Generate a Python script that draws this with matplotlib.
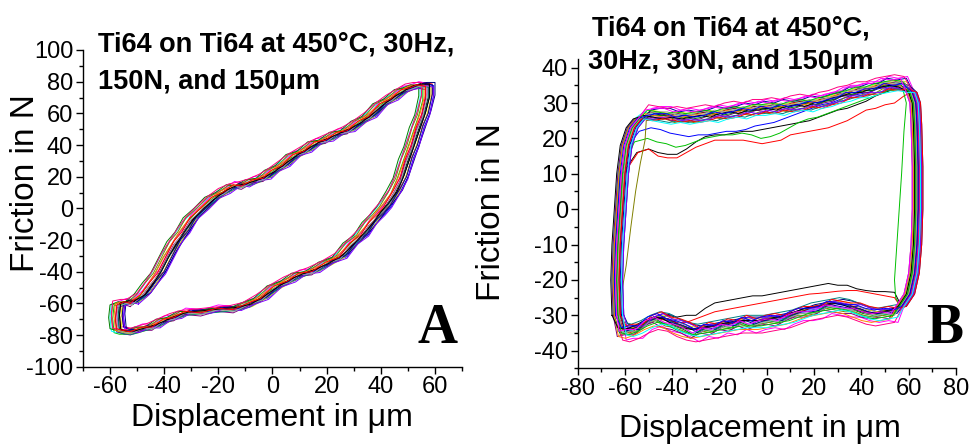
import numpy as np
import matplotlib
matplotlib.use("Agg")
import matplotlib.pyplot as plt
from matplotlib.ticker import MultipleLocator

plt.rcParams['font.family'] = ['Liberation Sans', 'DejaVu Sans']
plt.rcParams['axes.unicode_minus'] = False

# Origin default line colours, cycle order
origin_colors = ['#000000', '#FF0000', '#00C000', '#0000FF', '#00FFFF', '#FF00FF',
                 '#E0E000', '#808000', '#000080', '#800080', '#800000', '#008000',
                 '#008080', '#0000A0', '#FF8000', '#8000FF', '#FF0080', '#A0A0A0']

# ---- panel A : 150 N, traced loop (upper branch then lower branch), two variants
a_up_x = [-52, -48, -45, -42, -39, -36, -33, -30, -26, -22, -18, -14, -11, -7, -3,
          0, 4, 8, 12, 16, 20, 24, 28, 32, 36, 40, 44, 48, 51, 54, 57]
a_up_y = [-59, -55, -48, -40, -30, -22, -14, -7, 0, 6, 11, 14, 15, 17, 20,
          23, 28, 33, 37, 41, 44, 47, 50, 54, 59, 65, 70, 74, 77, 78, 78]
a_up_y2 = [-60, -54, -47, -41, -31, -21, -15, -6, 0, 7, 10, 15, 14, 18, 19,
           24, 27, 34, 36, 42, 43, 48, 49, 55, 58, 66, 69, 75, 76, 78, 77]
a_down_x = [57, 55.5, 53.5, 51.5, 49.5, 47.5, 45, 41.5, 39, 36, 33, 29, 25, 20, 15, 10,
            6, 1, -4, -9, -14, -20, -26, -32, -36, -40, -44, -48, -52, -55, -57, -57.5,
            -57, -54]
a_down_y = [70, 60, 50, 40, 30, 20, 10, 2, -3, -10, -16, -23, -30, -35, -39, -42,
            -45, -50, -56, -61, -63, -64, -65, -66, -68, -71, -74, -76, -78, -78, -77, -68,
            -60, -59]
a_down_y2 = [71, 59, 51, 39, 31, 19, 11, 1, -4, -9, -17, -22, -31, -34, -40, -41,
             -46, -49, -57, -60, -64, -63, -66, -65, -69, -70, -75, -75, -78, -77, -76, -69,
             -61, -59]
# cycle to cycle drift
a_dx = [0.5, 2, -1.5, 2.5, -2.5, 0, 1.5, -2, 3, -0.5, 1, -3, 0.5, 2, -1, 2.5, -2, 0, 1, -0.5]
a_dy = [0, 1.5, -1.5, 0.5, -0.5, 2, -1, 0, 1.5, -2, 0.5, 0, -1.5, 1, 0, -0.5, 1.5, -1, 0.5, 0]

# ---- panel B : 30 N, loop split into four branches
b_left_x = [-63, -63.5, -63, -62, -61, -59.5, -57, -54]
b_left_y = [-30, -20, -10, 0, 10, 18, 23, 25.5]
b_top_x = [-50, -46, -42, -38, -34, -30, -26, -22, -18, -14, -10, -6, -2, 2, 6, 10,
           14, 18, 22, 26, 30, 34, 38, 42, 46, 50, 54, 58]
b_top_y = [26.5, 26, 25.5, 26, 25.5, 26, 26.5, 26, 27, 27.5, 27, 28, 28, 28.5, 28, 29,
           29.5, 29, 30, 30.5, 31.5, 32, 33, 33, 34, 34.5, 35, 34.5]
b_top_y2 = [26, 26.5, 26.5, 25.5, 26, 25.5, 26, 27, 26.5, 27, 28, 27.5, 28.5, 28, 29, 28.5,
            29, 30, 29.5, 30.5, 31, 32.5, 32.5, 33.5, 33.5, 35, 34.5, 35]
b_right_x = [61.5, 63, 63.5, 64, 64, 63.5, 62.5, 60.5, 57]
b_right_y = [33, 30, 24, 12, 0, -10, -18, -24, -27.5]
b_bot_x = [54, 50, 46, 42, 38, 34, 30, 26, 22, 18, 14, 10, 6, 2, -2, -6, -10, -14,
           -18, -22, -26, -30, -34, -38, -42, -46, -50, -54, -58, -61]
b_bot_y = [-28.5, -29, -29.5, -29, -28, -27, -26.5, -27, -27.5, -28, -29, -30, -30.5,
           -31, -31.5, -31.5, -31.5, -32, -32.5, -33, -33.5, -34, -33.5, -32.5, -31,
           -30.5, -31.5, -33, -34, -33.5]
b_bot_y2 = [-29, -28.5, -29, -28.5, -27.5, -27.5, -27, -26.5, -28, -28.5, -28.5, -29.5, -31,
            -30.5, -31, -32, -31, -32.5, -32, -33.5, -33, -34.5, -33, -32, -31.5, -30, -31,
            -33.5, -33.5, -34]

# first (running-in) cycles have their own top / bottom branches
b_top_black = [17, 16, 15.5, 15.5, 17, 19, 20.5, 21, 21, 21.5, 22, 22, 22.5, 23, 23.5, 24,
               24.5, 25, 26, 27, 28, 28.5, 29.5, 30.5, 32, 33, 34, 34]
b_top_red = [17, 15, 14.5, 14.5, 16, 17.5, 18.5, 19.5, 19.5, 19.5, 19.5, 19, 18.5, 19, 19.5, 21,
             21.5, 22, 22.5, 23, 24, 25, 26.5, 28, 28.5, 29.5, 30, 32]
b_top_green = [20, 19, 18.5, 17.5, 18, 19, 20, 20.5, 21, 21, 21.5, 21, 20, 20.5, 21.5, 23,
               24.5, 25.5, 26, 27, 28, 29, 30, 31, 32, 33, 34, 34]
b_top_blue = [23, 22.5, 21.5, 21, 20.5, 21, 21, 21.5, 22, 22, 22.5, 23.5, 24, 24.5, 25.5, 26.5,
              27.5, 28.5, 29.5, 30, 31, 32, 32.5, 33, 34, 34.5, 35, 34.5]
b_bot_black = [-23.5, -23.3, -23.3, -23, -22.5, -21.5, -21.5, -21, -21.5, -22, -22.5, -23,
               -23.5, -24, -24.5, -24.5, -25, -25.5, -26, -26.5, -28, -30, -30, -30.5, -30,
               -31, -31.5, -33, -34, -33.5]
b_bot_red = [-25, -24.5, -24, -23.5, -23, -23, -23.2, -23.5, -23.8, -24, -24.5, -25, -25.5,
             -26, -26.5, -27, -27.5, -28, -28.5, -29, -30, -31, -32, -32, -31.5, -31, -32,
             -33.5, -35, -34]
b_right_green_x = [59, 58, 57, 56, 55, 54, 54.5, 56.5]
b_right_green_y = [30, 22, 10, 0, -10, -20, -25, -27.5]
b_left_olive_x = [-62, -60.5, -59, -57, -55, -53, -51]
b_left_olive_y = [-30, -22, -16, -5, 5, 13, 19.5]

# per-cycle drift of the two reversal edges and of the two sliding branches
b_dx_left = [0, 0.5, -1, 1, -2, 2, 0.5, -0.5, 2.5, -2, 1, -1.5, 0, 1.5, -1.5, 2.5, -0.5,
             0.5, -2.5, 1, 0, -1, 2, -0.5]
b_dx_right = [0, -0.5, 0, 1, -2, 1, 1.5, -1.5, 2, -2.5, 0, -1, 1.5, 0.5, -2, 1.5, 0.5,
              -0.5, -1.5, 2, -1, 0, 1, -2.5]
b_dy_top = [0, 0, 0, 0, 1, 2.5, 1.5, -1, 0.5, -0.5, 1, 0, -1, 2, 0.5, -0.5, 3, 1, 0,
            -1, 1.5, 0.5, -1.5, 2]
b_dy_bot = [0, 0, 0, 0, -1, -3, 0.5, -1.5, 1, -2, 0, -1, 1.5, -0.5, -2.5, 0.5, -3.5, -1,
            0, 1, -1.5, 0.5, -2, -0.5]


def loop_a(i):
    """One closed friction loop of panel A for cycle i."""
    up_y = a_up_y if i % 2 == 0 else a_up_y2
    down_y = a_down_y if i % 2 == 0 else a_down_y2
    x = np.array(a_up_x + a_down_x + a_up_x[:1]) + a_dx[i]
    y = np.array(up_y + down_y + up_y[:1]) + a_dy[i]
    return x, y


def loop_b(i):
    """One closed friction loop of panel B for cycle i."""
    lx, ly = list(b_left_x), list(b_left_y)
    ty = [v + b_dy_top[i] for v in (b_top_y if i % 2 == 0 else b_top_y2)]
    rx, ry = list(b_right_x), list(b_right_y)
    by = [v + b_dy_bot[i] for v in (b_bot_y if i % 2 == 0 else b_bot_y2)]
    special_top = {0: b_top_black, 1: b_top_red, 2: b_top_green, 3: b_top_blue}
    if i in special_top:
        ty = special_top[i]
        # the vertical rise stops at the lower top branch
        keep = [k for k in range(len(ly)) if ly[k] < ty[0] - 3]
        lx = [lx[k] for k in keep] + [-55]
        ly = [ly[k] for k in keep] + [ty[0] - 1]
    if i == 0:
        by = b_bot_black
    if i == 1:
        by = b_bot_red
    if i == 2:
        rx, ry = list(b_right_green_x), list(b_right_green_y)
    if i == 7:
        lx, ly = list(b_left_olive_x), list(b_left_olive_y)
    mid = 0.5 * (b_dx_left[i] + b_dx_right[i])
    x = np.concatenate([np.array(lx) + b_dx_left[i],
                        np.array(b_top_x) + mid,
                        np.array(rx) + b_dx_right[i],
                        np.array(b_bot_x) + mid,
                        np.array(lx[:1]) + b_dx_left[i]])
    y = np.array(ly + ty + ry + by + ly[:1])
    return x, y


def style_axes(ax):
    """Origin-like L frame with outward ticks."""
    ax.spines['top'].set_visible(False)
    ax.spines['right'].set_visible(False)
    for s in ['left', 'bottom']:
        ax.spines[s].set_linewidth(1.0)
    ax.tick_params(which='major', direction='out', length=5, width=1, labelsize=17, pad=2)
    ax.tick_params(which='minor', direction='out', length=3, width=1)


fig = plt.figure(figsize=(9.73, 4.44), dpi=100)

# panel A
axA = fig.add_axes([0.0852, 0.1741, 0.3897, 0.7133])
for i in range(len(a_dx)):
    x, y = loop_a(i)
    axA.plot(x, y, color=origin_colors[i % len(origin_colors)], lw=0.7)
axA.set_xlim(-70, 70)
axA.set_ylim(-100, 100)
axA.xaxis.set_minor_locator(MultipleLocator(10))
axA.yaxis.set_major_locator(MultipleLocator(20))
axA.yaxis.set_minor_locator(MultipleLocator(10))
axA.set_xticks([-60, -40, -20, 0, 20, 40, 60])
style_axes(axA)

# panel B
axB = fig.add_axes([0.5937, 0.1703, 0.3888, 0.6973])
for i in range(len(b_dx_left)):
    x, y = loop_b(i)
    axB.plot(x, y, color=origin_colors[i % len(origin_colors)], lw=0.7)
axB.set_xlim(-80, 80)
axB.set_ylim(-45, 42.5)
axB.xaxis.set_major_locator(MultipleLocator(20))
axB.xaxis.set_minor_locator(MultipleLocator(10))
axB.yaxis.set_major_locator(MultipleLocator(10))
axB.yaxis.set_minor_locator(MultipleLocator(5))
style_axes(axB)

# axis titles
fig.text(0.026, 0.588, 'Friction in N', rotation=90, fontsize=24, ha='center', va='center')
fig.text(0.279, 0.058, 'Displacement in \u03bcm', fontsize=23, ha='center', va='center')
fig.text(0.505, 0.523, 'Friction in N', rotation=90, fontsize=24, ha='center', va='center')
fig.text(0.781, 0.034, 'Displacement in \u03bcm', fontsize=23, ha='center', va='center')

# test conditions
fig.text(0.1007, 0.928, 'Ti64 on Ti64 at 450\u00b0C, 30Hz,', fontsize=19.5,
         fontweight='bold', ha='left', va='top')
fig.text(0.1007, 0.845, '150N, and 150\u03bcm', fontsize=19.5,
         fontweight='bold', ha='left', va='top')
fig.text(0.751, 0.964, 'Ti64 on Ti64 at 450\u00b0C,', fontsize=19.5,
         fontweight='bold', ha='center', va='top')
fig.text(0.751, 0.890, '30Hz, 30N, and 150\u03bcm', fontsize=19.5,
         fontweight='bold', ha='center', va='top')

# panel letters
fig.text(0.470, 0.227, 'A', family='Liberation Serif', fontsize=40, fontweight='bold',
         ha='right', va='baseline')
fig.text(0.990, 0.227, 'B', family='Liberation Serif', fontsize=40, fontweight='bold',
         ha='right', va='baseline')

plt.savefig('out.png', dpi=100)
